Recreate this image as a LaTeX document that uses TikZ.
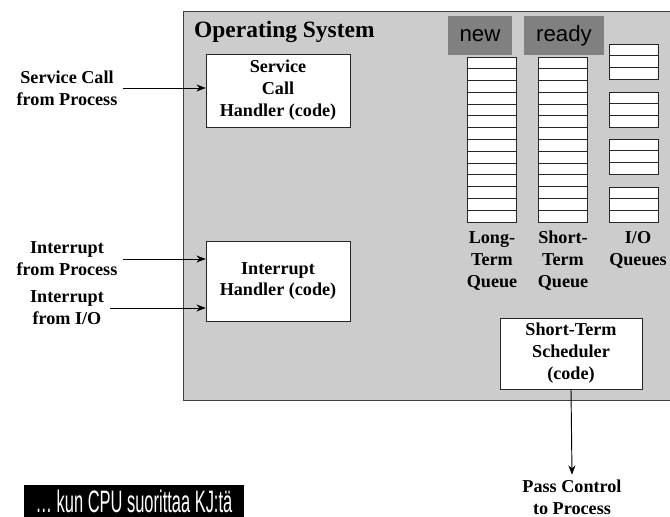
\documentclass[tikz,border=0pt]{standalone}
\usepackage{fontspec}
\setmainfont{Liberation Serif}
\newfontfamily\tagfont{Liberation Sans}
\newfontfamily\bannerfont[FakeStretch=0.53]{Liberation Sans}
\usetikzlibrary{positioning, arrows.meta}
\definecolor{osgray}{gray}{0.8}
\definecolor{taggray}{gray}{0.5}

\begin{document}
\begin{tikzpicture}[x=0.03cm, y=-0.03cm]
    \tikzstyle{label} = [align=center, font=\fontsize{15.5}{18.7}\selectfont\bfseries, inner sep=5pt]
    \tikzstyle{handler} = [rectangle, draw=black!85, fill=white, align=center, font=\fontsize{15.5}{18.7}\selectfont\bfseries, inner sep=0pt]
    \tikzstyle{tag} = [rectangle, fill=taggray, inner sep=0pt, font=\tagfont\fontsize{19}{22}\selectfont]
    \tikzstyle{slot} = [draw=black!85, fill=white, line width=0.8pt]
    \tikzstyle{arrow} = [line width=0.8pt, -{Stealth[length=8pt, width=6pt]}]

    \useasboundingbox (0,0) rectangle (670,517);

    % operating system area
    \draw [fill=osgray, draw=black!75, line width=0.8pt] (183,11) rectangle (690,400);
    \node [anchor=base west, inner sep=0pt, font=\fontsize{20}{24}\selectfont\bfseries] (ostitle) at (194,38) {Operating System};

    % handlers
    \node [handler, minimum width=4.32cm, minimum height=2.19cm] (svchandler) at (278,90.5) {Service\\Call\\Handler (code)};
    \node [handler, minimum width=4.32cm, minimum height=2.4cm] (inthandler) at (278,281) {Interrupt\\Handler (code)};
    \node [handler, minimum width=4.26cm, minimum height=2.13cm] (scheduler) at (571,353.5) {Short-Term\\Scheduler\\(code)};

    % queues
    \foreach \i in {0,...,13} {
        \draw [slot] (467,57+\i*11.79) rectangle (516,57+\i*11.79+11.79);
        \draw [slot] (538,57+\i*11.79) rectangle (587,57+\i*11.79+11.79);
    }
    \foreach \top in {44,92,139,187} {
        \foreach \j in {0,1,2} {
            \draw [slot] (609,\top+\j*11.7) rectangle (658,\top+\j*11.7+11.7);
        }
    }
    \node [tag, minimum width=1.92cm, minimum height=1.17cm] (newtag) at (480,35.5) {new};
    \node [tag, minimum width=2.4cm, minimum height=1.17cm] (readytag) at (564,35.5) {ready};

    \node [label, inner sep=0pt] (ltq) at (492,261) {Long-\\Term\\Queue};
    \node [label, inner sep=0pt] (stq) at (563,261) {Short-\\Term\\Queue};
    \node [label, inner sep=0pt] (ioq) at (638,250) {I/O\\Queues};

    % inputs and output
    \node [label] (svccall) at (67,88) {Service Call\\from Process};
    \node [label] (intproc) at (67,259) {Interrupt\\from Process};
    \node [label] (intio) at (67,308) {Interrupt\\from I/O};
    \node [label, inner sep=4pt] (passctl) at (572,497) {Pass Control\\to Process};

    \draw [arrow] (svccall.east) -- (svchandler.west |- svccall.east);
    \draw [arrow] (intproc.east) -- (inthandler.west |- intproc.east);
    \draw [arrow] (intio.east) -- (inthandler.west |- intio.east);
    \draw [arrow] (scheduler.south) -- (passctl.north);

    % banner
    \node [fill=black, text=white, inner sep=0pt, minimum width=6.6cm, minimum height=0.96cm, font=\bannerfont\fontsize{26.5}{28}\selectfont] (banner) at (134,501) {\ldots\ kun CPU suorittaa KJ:tä};
\end{tikzpicture}
\end{document}
